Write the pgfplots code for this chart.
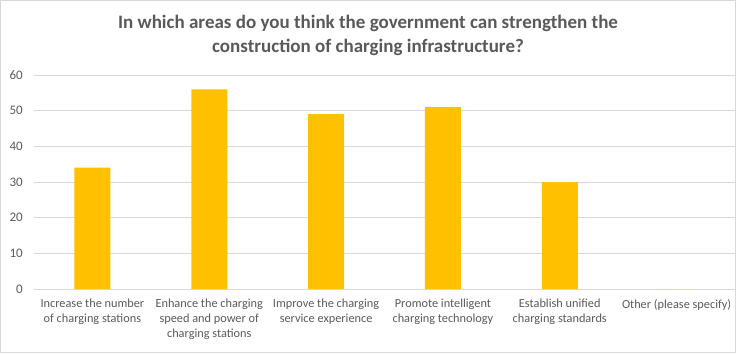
\documentclass[border=0pt]{standalone}
\usepackage{fontspec}
\setmainfont{Carlito}
\usepackage{pgfplots}
\pgfplotsset{compat=1.18}
\definecolor{txt}{HTML}{595959}
\definecolor{barc}{HTML}{FFC000}
\definecolor{gridc}{HTML}{D9D9D9}
\begin{document}
\begin{tikzpicture}[x=1bp,y=1bp]
\path[use as bounding box] (0,0) rectangle (736,353);
\draw[color=gridc, line width=0.75bp] (0.5,0.5) rectangle (735.5,352.5);
\node[align=center, text=txt, font=\fontsize{19bp}{24bp}\selectfont\bfseries] at (368,318)
  {In which areas do you think the government can strengthen the\\construction of charging infrastructure?};
\begin{axis}[
  at={(34bp,64bp)}, anchor=south west,
  scale only axis, width=701bp, height=214bp,
  xmin=-0.5, xmax=5.5, ymin=0, ymax=60,
  ytick={0,10,...,60},
  xtick=data,
  xticklabels={{Increase the number\\of charging stations},
               {Enhance the charging\\speed and power of\\charging stations},
               {Improve the charging\\service experience},
               {Promote intelligent\\charging technology},
               {Establish unified\\charging standards},
               {Other (please specify)}},
  axis x line*=bottom, axis y line*=left,
  x axis line style={draw=gridc, line width=0.75bp},
  y axis line style={draw=none},
  ymajorgrids, grid style={draw=gridc, line width=0.75bp},
  major tick length=0pt,
  /pgf/number format/assume math mode=true,
  yticklabel style={text=txt, font=\fontsize{13bp}{15bp}\selectfont, inner sep=0pt, anchor=east, xshift=-11bp},
  xticklabel style={text=txt, font=\fontsize{12.3bp}{15bp}\selectfont, align=center, inner sep=0pt, anchor=north, yshift=-10bp},
  ybar, bar width=36bp,
  clip=false,
]
\addplot[fill=barc, draw=none] coordinates {(0,34) (1,56) (2,49) (3,51) (4,30) (5,0)};
\end{axis}
\end{tikzpicture}
\end{document}
